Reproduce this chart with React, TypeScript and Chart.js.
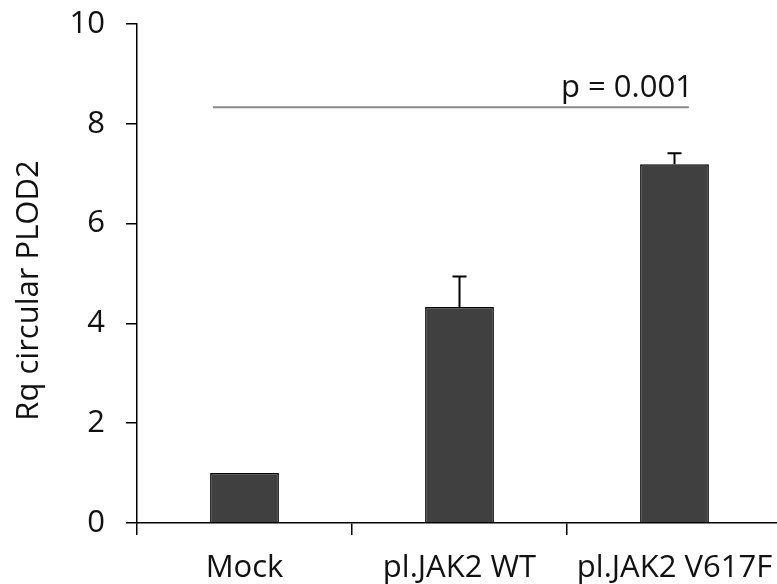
import React, { useEffect, useRef } from 'react';
import { Chart, registerables } from 'chart.js';

Chart.register(...registerables);

const categories = ['Mock', 'pl.JAK2 WT', 'pl.JAK2 V617F'];
const values = [1.0, 4.33, 7.19];
const errorUpper = [1.0, 4.94, 7.41];
const yTickValues = [0, 2, 4, 6, 8, 10];
const yTitle = 'Rq circular PLOD2';
const pLabel = 'p = 0.001';
const pLineValue = 8.33;
const pLineFrom = -0.147;
const pLineTo = 2.067;

const FONT = "'Open Sans', sans-serif";
const FONT_SIZE = 31;

const overlayPlugin = {
  id: 'overlay',
  afterDatasetsDraw(chart: any) {
    const ctx = chart.ctx;
    const x = chart.scales.x;
    const y = chart.scales.y;
    ctx.save();
    // error bars
    ctx.strokeStyle = '#000';
    ctx.lineWidth = 2;
    for (let i = 0; i < values.length; i++) {
      if (errorUpper[i] <= values[i]) continue;
      const px = x.getPixelForValue(i);
      const y0 = y.getPixelForValue(values[i]);
      const y1 = y.getPixelForValue(errorUpper[i]);
      ctx.beginPath();
      ctx.moveTo(px, y0);
      ctx.lineTo(px, y1);
      ctx.moveTo(px - 7, y1);
      ctx.lineTo(px + 7, y1);
      ctx.stroke();
    }
    // significance line
    const ly = y.getPixelForValue(pLineValue);
    const lx0 = x.getPixelForValue(pLineFrom);
    const lx1 = x.getPixelForValue(pLineTo);
    ctx.strokeStyle = '#8a8a8a';
    ctx.lineWidth = 2;
    ctx.beginPath();
    ctx.moveTo(lx0, ly);
    ctx.lineTo(lx1, ly);
    ctx.stroke();
    ctx.fillStyle = '#111';
    ctx.font = `${FONT_SIZE}px ${FONT}`;
    ctx.textAlign = 'right';
    ctx.textBaseline = 'alphabetic';
    ctx.fillText(pLabel, lx1 + 4, ly - 10);
    // y title
    const cy = (chart.chartArea.top + chart.chartArea.bottom) / 2 + 17;
    ctx.translate(29, cy);
    ctx.rotate(-Math.PI / 2);
    ctx.textAlign = 'center';
    ctx.textBaseline = 'middle';
    ctx.fillText(yTitle, 0, 0);
    ctx.restore();
  },
};

export default function App() {
  const ref = useRef<HTMLCanvasElement>(null);
  useEffect(() => {
    if (!ref.current) return;
    const chart = new Chart(ref.current, {
      type: 'bar',
      data: {
        labels: categories,
        datasets: [
          {
            data: values,
            backgroundColor: '#404040',
            borderColor: '#000',
            borderWidth: 1.5,
            barPercentage: 0.32,
            categoryPercentage: 1,
          },
        ],
      },
      options: {
        responsive: false,
        animation: false,
        devicePixelRatio: 1,
        layout: { padding: { top: 24, right: 0, left: 0, bottom: 0 } },
        plugins: { legend: { display: false }, tooltip: { enabled: false } },
        scales: {
          x: {
            offset: true,
            grid: {
              offset: true,
              drawOnChartArea: false,
              drawTicks: true,
              tickLength: 12,
              color: '#000',
              lineWidth: 1.5,
            },
            border: { display: true, color: '#000', width: 1.5 },
            ticks: {
              color: '#111',
              padding: 15,
              font: { family: FONT, size: FONT_SIZE },
              maxRotation: 0,
              autoSkip: false,
            },
            afterFit: (s: any) => {
              s.height = 61;
              s.paddingLeft = 0;
              s.paddingRight = 0;
              s.paddingTop = 0;
              s.paddingBottom = 0;
            },
          },
          y: {
            min: 0,
            max: 10,
            afterBuildTicks: (s: any) => {
              s.ticks = yTickValues.map((v) => ({ value: v }));
            },
            grid: {
              drawOnChartArea: false,
              drawTicks: true,
              tickLength: 11,
              color: '#000',
              lineWidth: 1.5,
            },
            border: { display: true, color: '#000', width: 1.5 },
            ticks: {
              color: '#111',
              padding: 21,
              font: { family: FONT, size: FONT_SIZE },
            },
            afterFit: (s: any) => {
              s.width = 137;
              s.paddingLeft = 0;
              s.paddingRight = 0;
              s.paddingTop = 0;
              s.paddingBottom = 0;
            },
          },
        },
      },
      plugins: [overlayPlugin],
    });
    return () => chart.destroy();
  }, []);
  return (
    <div
      style={{
        position: 'absolute',
        left: 0,
        top: 0,
        width: 777,
        height: 584,
        overflow: 'hidden',
        background: '#fff',
      }}
    >
      <canvas ref={ref} width={782} height={584} style={{ display: 'block' }} />
    </div>
  );
}
